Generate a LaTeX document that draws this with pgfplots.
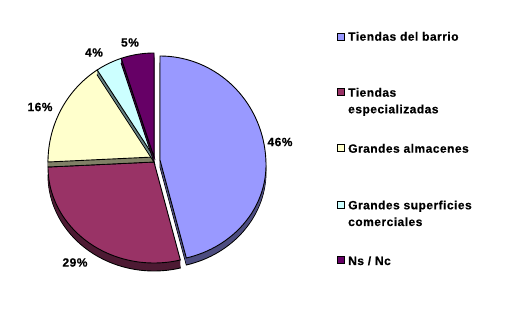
\documentclass[border=0pt]{standalone}
\usepackage{fontspec}
\setmainfont{Liberation Sans}[LetterSpace=4, BoldFeatures={FakeBold=0.5}]
\usepackage{pgfplots}
\pgfplotsset{compat=1.18}
\definecolor{cA}{HTML}{9999FF}\definecolor{sA}{HTML}{4D4D80}
\definecolor{cB}{HTML}{993366}\definecolor{sB}{HTML}{4D1A33}
\definecolor{cC}{HTML}{FFFFCC}\definecolor{sC}{HTML}{808066}
\definecolor{cD}{HTML}{CCFFFF}\definecolor{sD}{HTML}{668080}
\definecolor{cE}{HTML}{660066}\definecolor{sE}{HTML}{330033}
% data (percent)
\def\vA{46}\def\vB{29}\def\vC{16}\def\vD{4}\def\vE{5}
\pgfmathsetmacro\aA{90}
\pgfmathsetmacro\aB{\aA-3.6*\vA}
\pgfmathsetmacro\aC{\aB-3.6*\vB}
\pgfmathsetmacro\aD{\aC-3.6*\vC}
\pgfmathsetmacro\aE{\aD-3.6*\vD}
\pgfmathsetmacro\aF{\aE-3.6*\vE}
\newcommand\rx{106}\newcommand\ryt{109}\newcommand\ryb{96}
% #1 cx, #2 cy, #3 apex y, #4 from, #5 to, #6 style
\newcommand\slicepath[6]{%
 \addplot[#6, domain=#4:#5, samples=70, variable=\t]
   ({#1+\rx*cos(\t)},{#2+(sin(\t)>0?\ryt:\ryb)*sin(\t)}) -- (axis cs:#1,#3) -- cycle;}
\newcommand\side[7]{\slicepath{#1}{#2}{#3}{#4}{#5}{fill=#6,draw=none,yshift=-#7bp}}
\newcommand\sideout[7]{\slicepath{#1}{#2}{#3}{#4}{#5}{fill=#6,draw=black,line width=0.9bp,yshift=-#7bp}}
\newcommand\topface[6]{\slicepath{#1}{#2}{#3}{#4}{#5}{fill=#6,draw=black,line width=0.9bp}}
\begin{document}
\begin{tikzpicture}[lbl/.style={font=\fontsize{12bp}{15bp}\selectfont\bfseries, inner sep=0pt}]
\begin{axis}[width=527bp,height=329bp,scale only axis,hide axis,clip=false,
  xmin=0,xmax=527,ymin=0,ymax=329]
\path (axis cs:0,0) rectangle (axis cs:527,329);
% maroon 29%
\sideout{154}{162}{167}{\aC}{\aB}{sB}{8}
\pgfplotsinvokeforeach{7,6,5,4,3,2,1}{\side{154}{162}{167}{\aC}{\aB}{sB}{#1}}
\topface{154}{162}{167}{\aC}{\aB}{cB}
% blue 46% (exploded)
\sideout{160}{164}{169}{\aB}{\aA}{sA}{7}
\pgfplotsinvokeforeach{6,5,4,3,2,1}{\side{160}{164}{169}{\aB}{\aA}{sA}{#1}}
\topface{160}{164}{169}{\aB}{\aA}{cA}
% yellow 16%
\sideout{154}{167}{172}{\aD}{\aC}{sC}{5}
\pgfplotsinvokeforeach{4,3,2,1}{\side{154}{167}{172}{\aD}{\aC}{sC}{#1}}
\topface{154}{167}{172}{\aD}{\aC}{cC}
% cyan 4%
\sideout{154}{167}{172}{\aE}{\aD}{sD}{5}
\pgfplotsinvokeforeach{4,3,2,1}{\side{154}{167}{172}{\aE}{\aD}{sD}{#1}}
\topface{154}{167}{172}{\aE}{\aD}{cD}
% purple 5%
\sideout{154}{167}{172}{\aF}{\aE}{sE}{5}
\pgfplotsinvokeforeach{4,3,2,1}{\side{154}{167}{172}{\aF}{\aE}{sE}{#1}}
\topface{154}{167}{172}{\aF}{\aE}{cE}
% percentage labels
\node[lbl] at (axis cs:280,187) {46\%};
\node[lbl] at (axis cs:75,66.5) {29\%};
\node[lbl] at (axis cs:40,222) {16\%};
\node[lbl] at (axis cs:94,276.5) {4\%};
\node[lbl] at (axis cs:130,286.5) {5\%};
% legend
\filldraw[fill=cA,draw=black,line width=0.6bp] (axis cs:337.5,289) rectangle (axis cs:344.5,296);
\filldraw[fill=cB,draw=black,line width=0.6bp] (axis cs:337.5,233.3) rectangle (axis cs:344.5,240.3);
\filldraw[fill=cC,draw=black,line width=0.6bp] (axis cs:337.5,177.7) rectangle (axis cs:344.5,184.7);
\filldraw[fill=cD,draw=black,line width=0.6bp] (axis cs:337.5,121) rectangle (axis cs:344.5,128);
\filldraw[fill=cE,draw=black,line width=0.6bp] (axis cs:337.5,65.3) rectangle (axis cs:344.5,72.3);
\node[lbl,anchor=base west] at (axis cs:348,288.3) {Tiendas del barrio};
\node[lbl,anchor=base west] at (axis cs:348,232.3) {Tiendas};
\node[lbl,anchor=base west] at (axis cs:348,215.7) {especializadas};
\node[lbl,anchor=base west] at (axis cs:348,176.3) {Grandes almacenes};
\node[lbl,anchor=base west] at (axis cs:348,119.7) {Grandes superficies};
\node[lbl,anchor=base west] at (axis cs:348,103) {comerciales};
\node[lbl,anchor=base west] at (axis cs:348,64) {Ns / Nc};
\end{axis}
\end{tikzpicture}
\end{document}
